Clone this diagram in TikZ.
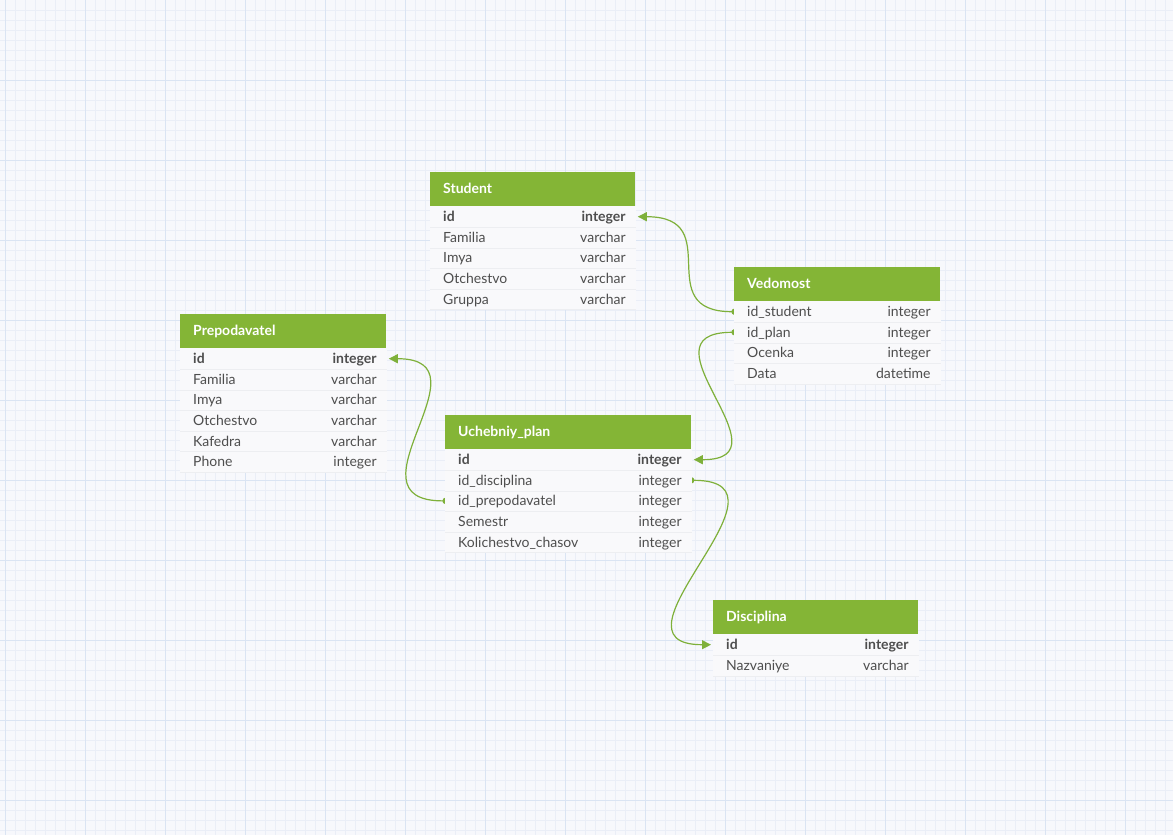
\documentclass[tikz,border=0pt]{standalone}
\usepackage{fontspec}
\setmainfont{Lato}
\usetikzlibrary{arrows.meta}
\pgfdeclarelayer{gridlayer}
\pgfdeclarelayer{links}
\pgfsetlayers{gridlayer,links,main}
\definecolor{bgc}{RGB}{247,248,252}
\definecolor{minorc}{RGB}{234,238,247}
\definecolor{majorc}{RGB}{218,228,243}
\definecolor{hdrc}{RGB}{132,181,54}
\definecolor{linkc}{RGB}{126,176,58}
\definecolor{rowc}{RGB}{249,249,251}
\definecolor{sepc}{RGB}{237,238,241}
\definecolor{txtc}{RGB}{78,78,78}
\definecolor{boldc}{RGB}{64,64,64}
\tikzset{
  hdr/.style={fill=hdrc, draw=none, inner sep=0pt, minimum height=34pt},
  hdrtxt/.style={text=white, font=\fontsize{14}{16}\selectfont\bfseries, inner sep=0pt, anchor=base west},
  rowbox/.style={fill=rowc, draw=rowc, line width=0.8pt, inner sep=0pt, minimum height=20.6pt},
  fldtxt/.style={text=txtc, inner sep=0pt},
  sepline/.style={draw=sepc, line width=0.8pt},
  conn/.style={draw=linkc, line width=1.2pt, {Circle[length=5pt,width=6pt]}-{Triangle[length=9pt,width=9pt]}, shorten <=-2.5pt},
  minorl/.style={draw=minorc, line width=0.6pt},
  majorl/.style={draw=majorc, line width=0.8pt},
}
\newcommand\dbtab[6]{%
  \foreach \f/\t/\w [count=\i] in {#6} {
    \node[rowbox, minimum width=#4pt, anchor=north west] (#1-\i) at (#2, #3+34+20.6*\i-20.6) {};
  }
  \node[hdr, minimum width=#4pt, anchor=north west] (#1-h) at (#2,#3) {};
  \node[hdrtxt] (#1-t) at (#2+13,#3+21) {#5};
  \foreach \f/\t/\w [count=\i] in {#6} {
    \draw[sepline] (#1-\i.south west) -- (#1-\i.south east);
    \node[fldtxt, anchor=base west, font=\fontsize{14}{16}\selectfont\w] (#1-\i-n) at ([xshift=13pt,yshift=-5pt]#1-\i.west) {\f};
    \node[fldtxt, anchor=base east, font=\fontsize{14}{16}\selectfont\w] (#1-\i-t) at ([xshift=-10pt,yshift=-5pt]#1-\i.east) {\t};
  }
}
\begin{document}
\begin{tikzpicture}[x=1pt,y=-1pt]
\useasboundingbox (0,0) rectangle (1173,835);
\begin{pgfonlayer}{gridlayer}
\fill[bgc] (0,0) rectangle (1173,835);
\foreach \x in {5,15,...,1165} \draw[minorl] (\x,0) -- (\x,835);
\foreach \y in {10,20,...,830} \draw[minorl] (0,\y) -- (1173,\y);
\foreach \x in {5,85,...,1165} \draw[majorl] (\x,0) -- (\x,835);
\foreach \y in {80,160,...,800} \draw[majorl] (0,\y) -- (1173,\y);
\end{pgfonlayer}

\dbtab{stu}{430}{172}{205}{Student}{id/integer/\bfseries\color{boldc}, Familia/varchar/, Imya/varchar/, Otchestvo/varchar/, Gruppa/varchar/}
\dbtab{ved}{734}{267}{206}{Vedomost}{id\_student/integer/, id\_plan/integer/, Ocenka/integer/, Data/datetime/}
\dbtab{pre}{180}{314}{206}{Prepodavatel}{id/integer/\bfseries\color{boldc}, Familia/varchar/, Imya/varchar/, Otchestvo/varchar/, Kafedra/varchar/, Phone/integer/}
\dbtab{uch}{445}{415}{246}{Uchebniy\_plan}{id/integer/\bfseries\color{boldc}, id\_disciplina/integer/, id\_prepodavatel/integer/, Semestr/integer/, Kolichestvo\_chasov/integer/}
\dbtab{dis}{713}{600}{205}{Disciplina}{id/integer/\bfseries\color{boldc}, Nazvaniye/varchar/}

\begin{pgfonlayer}{links}
\draw[conn] (ved-1.west) .. controls +(-85,0) and +(90,0) .. ([xshift=2pt]stu-1.east);
\draw[conn] (ved-2.west) .. controls +(-100,0) and +(100,0) .. ([xshift=2pt]uch-1.east);
\draw[conn] (uch-3.west) .. controls +(-105,0) and +(105,0) .. ([xshift=2pt]pre-1.east);
\draw[conn] (uch-2.east) .. controls +(115,0) and +(-115,0) .. ([xshift=-2pt]dis-1.west);
\end{pgfonlayer}
\end{tikzpicture}
\end{document}
